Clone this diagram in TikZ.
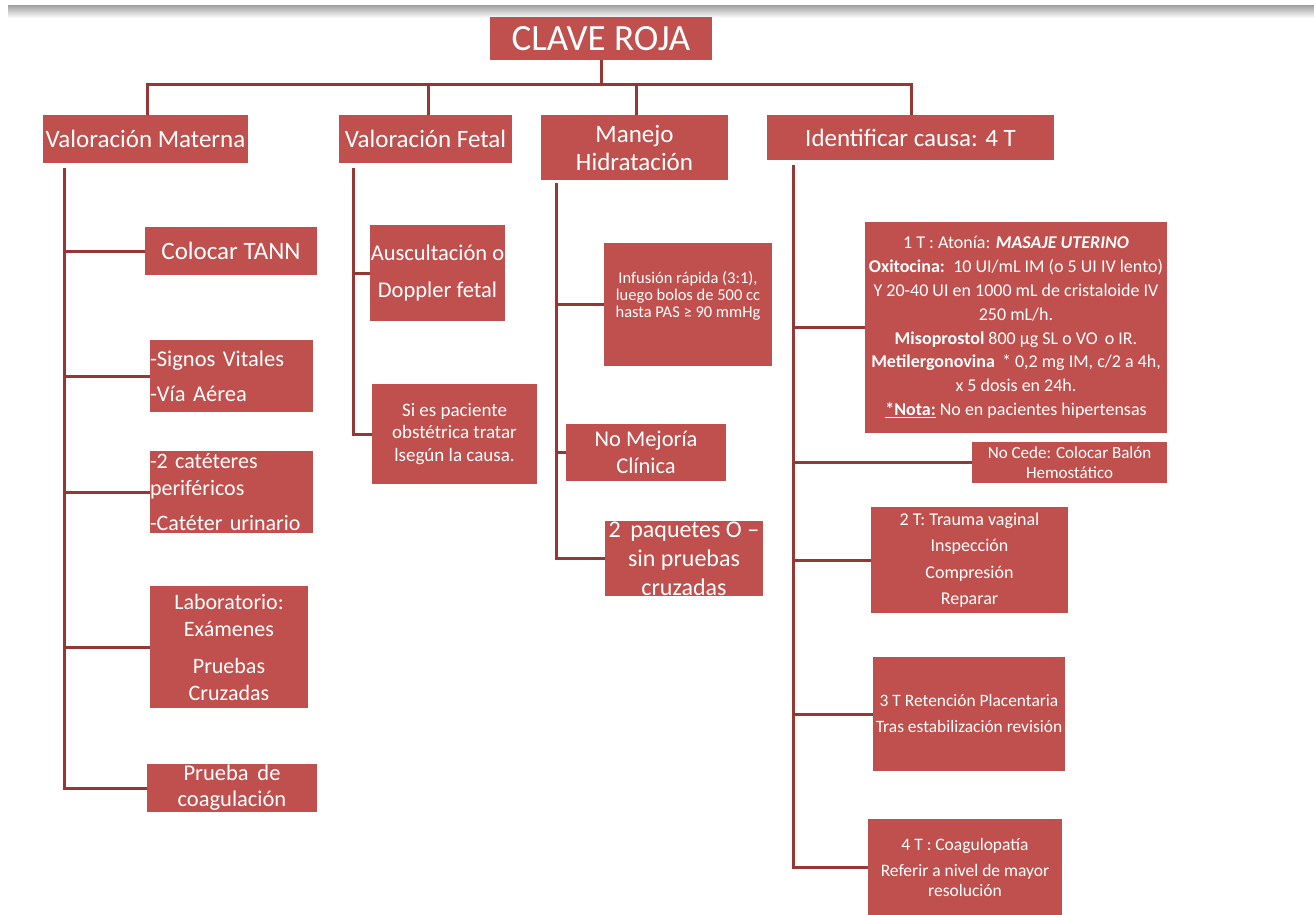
\documentclass[tikz,border=0pt]{standalone}
\usepackage{fontspec}
\setmainfont{Carlito}
\definecolor{boxred}{HTML}{C0504D}
\definecolor{linered}{HTML}{953735}
\newcommand{\fs}[2]{\fontsize{#1}{#2}\selectfont}
\begin{document}
\begin{tikzpicture}[x=1pt,y=-1pt,
  box/.style={fill=boxred, text=white, inner sep=0pt, align=center, font=\fs{22}{27}},
  head/.style={box, font=\fs{25}{28}},
  sz/.style 2 args={minimum width=#1pt, minimum height=#2pt},
  conn/.style={draw=linered, line width=3pt}]
\useasboundingbox (0,0) rectangle (1314,915);
\shade[top color=gray!70, bottom color=white] (8,6) rectangle (1314,18);

% top
\node[box, sz={222}{43}, font=\fs{37}{40}] (clave) at (601,38.5) {CLAVE ROJA};
\node[head, sz={205}{48}] (vm) at (145.5,139) {Valoración Materna};
\node[head, sz={173}{48}] (vf) at (425.5,139) {Valoración Fetal};
\node[head, sz={187}{65}] (mh) at (634.5,147.5) {Manejo\\Hidratación};
\node[head, sz={287}{45}] (ic) at (910.5,137.5) {Identificar causa: 4 T};

\coordinate (h) at (601,85);
\draw[conn] (clave.south) -- (clave.south |- h);
\draw[conn] (vm.north -| 147,0) |- (h) -| (ic.north -| 911,0);
\draw[conn] (vf.north -| 428,0) -- (vf.north |- h -| 428,0);
\draw[conn] (mh.north -| 636,0) -- (mh.north |- h -| 636,0);

% Valoracion materna
\node[box, sz={172}{48}, font=\fs{25}{28}] (tann) at (231,251) {Colocar TANN};
\node[box, sz={163}{72}, text width=163pt, align=left, font=\fs{22.5}{27}] (sv) at (231.5,376) {-Signos Vitales\\[8pt]-Vía Aérea};
\node[box, sz={163}{82}, text width=163pt, align=left] (cat) at (231.5,492) {-2 catéteres\\periféricos\\[8pt]-Catéter urinario};
\node[box, sz={158}{122}] (lab) at (229,647) {Laboratorio:\\Exámenes\\[10pt]Pruebas\\Cruzadas};
\node[box, sz={170}{48}, font=\fs{22.5}{26}] (coag) at (232,788) {Prueba\, de\\coagulación};
\coordinate (vmt) at (64,168);
\draw[conn] (vmt) |- (coag.west);
\foreach \n in {tann,sv,cat,lab} \draw[conn] (vmt |- \n.west) -- (\n.west);

% Valoracion fetal
\node[box, sz={135}{96}, font=\fs{22.5}{27}] (aus) at (437.5,273) {Auscultación o\\[10pt]Doppler fetal};
\node[box, sz={165}{100}, font=\fs{19}{22.5}] (si) at (454.5,434) {Si es paciente\\obstétrica tratar\\lsegún la causa.};
\coordinate (vft) at (353,168);
\draw[conn] (vft) |- (si.west);
\draw[conn] (vft |- aus.west) -- (aus.west);

% Manejo hidratacion
\node[box, sz={168}{123}, font=\fs{16.5}{17}] (inf) at (688,304.5) {Infusión rápida (3:1),\\luego bolos de 500 cc\\hasta PAS ≥ 90 mmHg\\[4pt]};
\node[box, sz={160}{57}, font=\fs{22.5}{27}] (nm) at (646,452.5) {No Mejoría\\Clínica};
\node[box, sz={158}{75}, font=\fs{24}{29}] (paq) at (684,558.5) {2\, paquetes O –\\sin pruebas\\cruzadas};
\coordinate (mht) at (556,183);
\draw[conn] (mht) |- (paq.west);
\draw[conn] (mht |- inf.west) -- (inf.west);
\draw[conn] (mht |- nm.west) -- (nm.west);

% Identificar causa
\node[box, sz={302}{211}, font=\fs{18}{23.8}] (t1) at (1016,327.5) {1 T : Atonía: \textbf{\textit{MASAJE UTERINO}}\\
\textbf{Oxitocina:}\, 10 UI/mL IM (o 5 UI IV lento)\\
Y 20-40 UI en 1000 mL de cristaloide IV\\
250 mL/h.\\
\textbf{Misoprostol} 800 µg SL o VO\, o IR.\\
\textbf{Metilergonovina}\, * 0,2 mg IM, c/2 a 4h,\\
x 5 dosis en 24h.\\
\underline{\textbf{*Nota:}} No en pacientes hipertensas};
\node[box, sz={195}{41}, font=\fs{17}{20}] (nc) at (1069.5,462.5) {No Cede: Colocar Balón\\Hemostático};
\node[box, sz={197}{106}, font=\fs{18}{26.5}] (t2) at (969.5,560) {2 T: Trauma vaginal\\Inspección\\Compresión\\Reparar};
\node[box, sz={192}{114}, font=\fs{17.4}{26}] (t3) at (969,714) {3 T Retención Placentaria\\Tras estabilización revisión};
\node[box, sz={194}{96}, font=\fs{17.5}{20}] (t4) at (965,867) {4 T : Coagulopatía\\[6pt]Referir a nivel de mayor\\resolución};
\coordinate (ict) at (793,165);
\draw[conn] (ict) |- (t4.west);
\foreach \n in {t1,nc,t2,t3} \draw[conn] (ict |- \n.west) -- (\n.west);
\end{tikzpicture}
\end{document}
